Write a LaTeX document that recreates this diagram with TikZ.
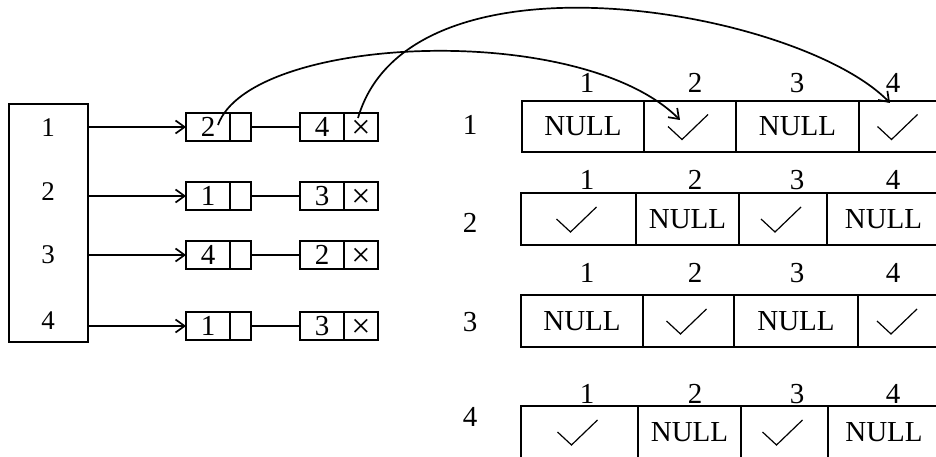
\documentclass[tikz,border=0pt]{standalone}
\usepackage{fontspec}
\setmainfont{Liberation Serif}
\usetikzlibrary{arrows.meta}
\begin{document}
\begin{tikzpicture}[x=1pt,y=-1pt,
  every node/.style={inner sep=0pt,outer sep=0pt},
  big/.style={font=\fontsize{29}{29}\selectfont},
  small/.style={font=\fontsize{27}{27}\selectfont},
  lbox/.style={draw,line width=1.8pt,minimum height=28pt,font=\fontsize{29}{29}\selectfont},
  cell/.style={draw,line width=1.9pt,font=\fontsize{29}{29}\selectfont},
  conn/.style={line width=1.8pt},
  arr/.style={line width=1.7pt,-{Straight Barb[length=9pt,width=13pt,line width=1.7pt]}},
  chk/.pic={\draw[line width=1.2pt] (-22,0) -- (-8,13) -- (18,-12);}
]
\clip (0,0) rectangle (936,457);
\fill[white] (0,0) rectangle (936,457);

% left vertex table
\node[draw,line width=1.9pt,minimum width=79pt,minimum height=238pt] (L) at (48.5,223) {};
\node[small] (v1) at (48,128) {1};
\node[small] (v2) at (48,192) {2};
\node[small] (v3) at (48,255) {3};
\node[small] (v4) at (48,321) {4};

% adjacency lists
\foreach \r/\y/\a/\b in {1/127/2/4, 2/196/1/3, 3/255/4/2, 4/326/1/3}{
  \node[lbox,minimum width=44pt] (a\r) at (208,\y) {\a};
  \node[lbox,minimum width=21pt,anchor=west] (p\r) at (a\r.east) {};
  \node[lbox,minimum width=44pt] (b\r) at (322,\y) {\b};
  \node[lbox,minimum width=34pt,anchor=west,
        label={[font=\fontsize{34}{34}\selectfont,yshift=-2.5pt]center:×}] (x\r) at (b\r.east) {};
  \draw[arr] (L.east |- a\r.west) -- (a\r.west);
  \draw[conn] (p\r.east) -- (b\r.west);
}

% right matrix rows
% row 1
\node[cell,minimum width=122pt,minimum height=51pt] (c11) at (583,126.5) {NULL};
\node[cell,minimum width=92pt,minimum height=51pt] (c12) at (690,126.5) {};
\node[cell,minimum width=123pt,minimum height=51pt] (c13) at (797.5,126.5) {NULL};
\node[cell,minimum width=81pt,minimum height=51pt] (c14) at (899.5,126.5) {};
% row 2
\node[cell,minimum width=115pt,minimum height=52pt] (c21) at (578.5,219) {};
\node[cell,minimum width=103pt,minimum height=52pt] (c22) at (687.5,219) {NULL};
\node[cell,minimum width=88pt,minimum height=52pt] (c23) at (783,219) {};
\node[cell,minimum width=113pt,minimum height=52pt] (c24) at (883.5,219) {NULL};
% row 3
\node[cell,minimum width=122pt,minimum height=52pt] (c31) at (582,321) {NULL};
\node[cell,minimum width=91pt,minimum height=52pt] (c32) at (688.5,321) {};
\node[cell,minimum width=124pt,minimum height=52pt] (c33) at (796,321) {NULL};
\node[cell,minimum width=82pt,minimum height=52pt] (c34) at (899,321) {};
% row 4
\node[cell,minimum width=117pt,minimum height=52pt] (c41) at (579.5,432) {};
\node[cell,minimum width=103pt,minimum height=52pt] (c42) at (689.5,432) {NULL};
\node[cell,minimum width=87pt,minimum height=52pt] (c43) at (784.5,432) {};
\node[cell,minimum width=112pt,minimum height=52pt] (c44) at (884,432) {NULL};

% check marks
\pic at (c12) {chk};
\pic at (c14) {chk};
\pic at (c21) {chk};
\pic at (c23) {chk};
\pic at (c32) {chk};
\pic at (c34) {chk};
\pic at (c41) {chk};
\pic at (c43) {chk};

% row labels
\node[big] (r1) at (470,125) {1};
\node[big] (r2) at (470,223) {2};
\node[big] (r3) at (470,322) {3};
\node[big] (r4) at (470,417) {4};

% column labels
\foreach \r/\y in {1/83,2/180,3/273,4/394}{
  \node[big] (h\r1) at (587,\y) {1};
  \node[big] (h\r2) at (695,\y) {2};
  \node[big] (h\r3) at (797,\y) {3};
  \node[big] (h\r4) at (893,\y) {4};
}

% curved pointers
\coordinate (s1) at (218,125);
\coordinate (t1) at (680,120);
\coordinate (s2) at (358,118);
\coordinate (t2) at (890,103);
\draw[arr] (s1) .. controls (250,35) and (580,20) .. (t1);
\draw[arr] (s2) .. controls (410,-60) and (800,10) .. (t2);
\end{tikzpicture}
\end{document}
